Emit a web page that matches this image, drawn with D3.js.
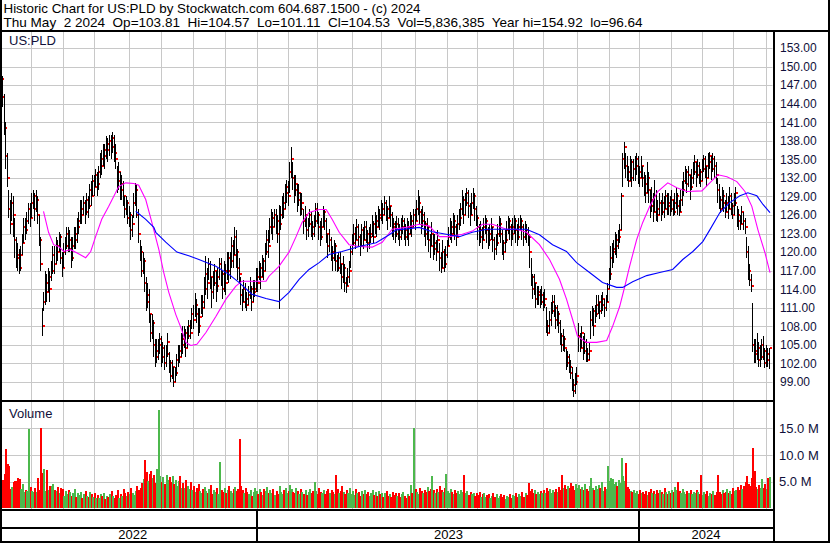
<!DOCTYPE html>
<html>
<head>
<meta charset="utf-8">
<script src="https://cdn.jsdelivr.net/npm/d3@7/dist/d3.min.js"></script>
<style>
  html, body { margin: 0; padding: 0; background: #fff; }
  svg text { font-family: Arial, "Liberation Sans", sans-serif; }
</style>
</head>
<body>
<svg id="chart" width="830" height="543"></svg>
<script>
// ---------------- DATA ----------------
const titleLine1 = "Historic Chart for US:PLD by Stockwatch.com 604.687.1500 - (c) 2024";
const titleLine2 = "Thu May  2 2024  Op=103.81  Hi=104.57  Lo=101.11  Cl=104.53  Vol=5,836,385  Year hi=154.92  lo=96.64";
const symbol = "US:PLD";
const startDate = "2022-05-02";
const endDate = "2024-05-02";
const holidays = ["2022-05-30","2022-06-20","2022-07-04","2022-09-05","2022-11-24","2022-12-26",
  "2023-01-02","2023-01-16","2023-02-20","2023-04-07","2023-05-29","2023-06-19","2023-07-04","2023-09-04","2023-11-23","2023-12-25",
  "2024-01-01","2024-01-15","2024-02-19","2024-03-29"];

const priceTicks = [153,150,147,144,141,138,135,132,129,126,123,120,117,114,111,108,105,102,99];
const volumeTicks = [5,10,15];   // millions
const yearLabels = ["2022","2023","2024"];

// daily highs
const highs = [
153.5,148.5,145.5,141,136,
130,128.5,129.5,129,125.5,122.5,
121.5,120.5,121,123,125.5,125.5,126.5,
128,128,129.5,130,129.5,130,129,
126,122.5,111,
113.5,117,116.5,117.5,117,
118.5,121,121,122.5,122,123.3,123,120,121.5,
122.5,124,124,123.5,122.5,122.5,124,124,125.5,
126.5,128.5,128.5,129,128.5,129.5,129,
131,131.5,132.5,132.5,133.5,133,
134,136,136.5,137.5,137.5,138.7,138.5,
139,139,139.5,139,137.5,
134,134.5,133,132.5,131.5,
129,129,128.5,127.5,126.5,126,129.5,131.2,131,127,
122,121,120,119,116,115,114,
110,110,109,106,106,
106,107,106.5,105.5,105,105,107,
103.8,102.5,102.5,101.5,101.5,103.5,
105,105,107,108,108,107.5,108,
109,109,111,111.5,113.4,112.5,111,111,113,113,
116,119.3,117.5,119,118.5,116,117,118,117,117.5,119,
119,117,118.5,118,120,120,
120,122.5,122,124,123.5,120.5,119,
116,114,115.5,115,113.5,114.5,116,114.5,115.5,
115.5,117.5,117.5,118.5,118.3,119.5,119,121.5,123.5,123.5,
125.5,126.9,126.5,127,127,126,127.6,127.5,
129,129.5,131,131.7,131.5,
134.5,137,
134.5,132.5,132.5,131,131,129.5,129.5,
127,127.4,126,125.5,127,126.5,125,
126,128,128,126.5,125,125.5,127.5,127,125.5,
123,123.7,122.5,121,122,121.5,119.5,120,120,
118,119.3,118,116,117.5,118.5,
121,123,124.5,124,125.3,124.5,123,124.5,124,125,125,123.5,124,
124.5,126,125,126.5,126,127.5,127,128.5,128,129,128.5,127.5,129,127.5,126.5,
125.5,125,125.8,125.5,124.5,125.5,126,125.5,124.5,
125.5,125,126.5,126,127,127,128.5,130,129,127,127.5,126.5,125,125.5,
124,123,124.8,123,123,122,123.5,
121.5,120,122,120.5,121,122,
124,125.5,125,126.4,126,124.5,126,127,
128,130,129,129.5,130.4,130,128,129.5,130.4,129.5,127.5,
126,124.5,125,124,125.5,126,125.5,124,124.5,125.5,
124,122.5,123,124.5,125.8,125.5,123.5,122,123.5,125,125.8,125.5,124.5,
125.5,126,125.5,124.5,125.5,126,125.5,124.5,125,
124.5,124,123,119,116.5,116.5,115,114.5,
114.5,114,114.5,113.5,114,
111.2,109,110.5,
112,113,113,111.5,111.5,110.5,
109,107,107.5,106.5,
104.3,104,103.5,102.5,
101.5,99.5,100.5,101.5,
108.6,107,108,
106.5,107,106,104.5,105.5,
110.5,111.3,
111,111.5,113,113,112,113,113.5,112.5,113,
115,117.5,
121,121.5,
122,123.2,123,123.5,
124.5,129.6,
136,137.8,
136,135.5,134,135.5,135,
135,135.5,136,135.5,134,135.5,134,
133,132.5,134.5,133,
130,130.5,129.5,131.7,130,128.5,129.5,
128.5,129.5,129,130,
129.5,129.5,129,130,128.5,129.5,130.5,129.5,128.5,
130,131.5,133,134,133.5,134,
132.5,133.5,134.5,135.7,134.5,135,134.5,133.5,135,135.7,135.5,
134,136,136.2,135.5,136,135.5,134.5,
132,131,129,130.5,130,128.5,
129.5,129,130.6,129.5,128,129.5,130.5,
127.4,127,126,127.4,126.5,
125.5,122.5,121,118,116.5,
111.8,
106,106,107,105.5,105,106,106.5,104.5,105,104.5,104.57
];

// daily lows
const lows = [
146.5,143.5,139,133.5,130.5,
125.5,123,125,122.5,119,117.5,
117,116.4,117,119.5,121.5,122,123,
124.5,124,125.5,127,125,126.5,124.5,
121,117,106.5,
110.5,111.5,112,113.5,112,
115.3,116.5,116.5,118,118.5,120,118,116,117.5,
119.5,120.5,120,120,117.5,118.5,120.5,120.5,121.5,
123,124.5,124.5,126,124.5,126,125.5,
127,127.5,129,129,130.5,129,
130,132,132.5,134,133.5,135,134.5,
135.5,135,136,134.5,133.5,
129.5,130,128.5,128.5,127.5,
125.5,126,124.5,124,122,122.5,125.5,127.5,125.5,121.5,
118.5,116,116.5,113.5,110.5,111,108.6,
105.5,106,103,101.5,102,
102.5,103.5,101.5,102,101,101.5,103,
100.5,99,99.5,98.2,99,100,
101.5,102,103,103.5,104.5,103,104.5,
105.9,106,107.5,107.5,109.5,108.5,106.5,107,110,109.5,
111,113,112.5,115.5,114,111,112.5,114.5,112,113.5,115.5,
114.5,112.4,113.5,113,115.5,115,
115.6,117.5,117.5,119.5,117.5,115.5,115,
111.5,110.5,112,111,110.4,111.5,112.5,110.5,112,
112.8,113.5,113.5,115.5,114,116,115.5,117,119.5,119,
121.5,123,122,124,123,121.5,110.8,123.5,
125.3,125.5,127,128,127.5,
129.5,132,
130,128,129,126.5,127.5,125.8,126,
123,124,122,122.5,124,122.5,122,
122.5,124,124.5,122,121,122,124,123.5,121.5,
119,120,118.5,117,118.5,117,116.8,117,116.5,
114,115,113.5,113.4,114.5,115,
117.5,119.5,121,120.5,122,121,119.3,121,120.5,122,121.5,120,120.5,
121.5,122.5,121.5,123,122.5,124,123.5,125,124.5,126,125,123.5,125.5,124,122.5,
122,121.5,122.5,122,121,122,123,122,121,
122,121,123,122.5,124,123.5,125,126,124.5,123,124,122.5,121,122,
120,119,121,118.8,119.5,118.5,120,
117,116.7,117.5,116.8,117.5,119,
121,122,121.5,123,122,121,122.5,123.5,
124.2,126,124.5,126,127.5,125.5,124.2,126,127,125,124.2,
122,121,121.5,120.5,122,123,121.5,120.5,121,122,
120,118.8,119.5,121,122.5,121.5,119.5,118.8,120,121.5,123,122,121,
122,123,121.5,121,122,123.5,122,121,122,
121.5,121,117.5,114.5,112.5,113,111,111.5,
111.5,111,111.5,110.5,111,
107,106.4,107,
108,110,109.5,107.5,108,107,
105,103.8,104,103.8,
101,101.5,100.5,99.5,
97.5,96.64,97,98.5,
103.8,103.8,104.5,
102.5,103.5,102.3,102.3,102.5,
105.9,108,
106.5,108.5,109.5,110,109.2,110,110.5,109.5,110.5,
112,114,
115.5,117.5,
118.3,119.5,119,120.5,
121.5,123.5,
130.5,133.5,
132,131.5,130.6,131.5,130.6,
131.5,131.5,132.5,131,130.5,132,130.5,
129,128,129.5,128,
125.5,126.5,124.8,126.5,125,124.8,126,
125,126,125.5,127,
126,126,125.8,126.5,125.8,126,127,126,125.8,
126.5,127.5,129,131,129.5,130.5,
128.5,130,131,132.5,130.6,132,131,130.6,131.5,133,132,
130.6,132,133.5,131.7,133,132,131,
128,127,126.4,127,126.5,125.5,
126.5,125.3,127,126,125.3,126,127.5,
124,123.6,123.6,124.5,123.6,
123,119,115.5,114.5,113.5,
103.8,
102,102,102.5,101.5,101.5,102.5,102.5,101.2,101.5,101.5,101.11
];

// daily closes
const closes = [
148,145,140,135.5,132,
127,124.5,128,126,122,119.5,
119,117.5,119.5,121.5,124,123.5,125,
127,125.5,128,129,127,128.5,126,
122,118,108,
112,115,113.5,116,114,
117,119.5,118,121,120,122.5,119,117.5,120,
121,123,120.5,122,119,121,123,122,124,
125,127,126,128,126.5,128.5,127.5,
130,129,131.5,130.5,132.5,131,
133,135,134,136.5,135.5,137.5,136.5,
138,137,138.5,136,135,
131.5,133,130,131,129,
127,128,125.5,126,123.5,124.5,128,130,126,123,
120,117,118.5,115,112,113,110,
107,108.5,105,103,104,
105,106,103,104.5,102,103.5,105.5,
102,100,101.5,99,100.5,102.5,
104,103,106,105,107,104.5,106.5,
108,107,110,109,111.5,110,108,109.5,112,111,
114,116.5,115,118,116,113.5,115,117,114.5,116,118,
116.5,114,117,115,119,117,
118.5,121,119.5,122.5,120,117.5,116.5,
113,112,114,112.5,111.5,113,114,112,113.5,
114,116,115,117.5,116,118.5,117,120,122,121,
124,125.5,124,126,125,123,124.5,126,
128,127,129.5,130.5,129,
133,135,
132,130,131,128.5,129.5,127,128,
125,126,123.5,124.5,126,124,123,
125,127,126,124,122.5,124,126.5,125,123,
121,122,120,119,121,118.5,117.5,119,118,
116,117.5,115,114.5,116,117,
120,121.5,123,122,124,122.5,121,123.5,122,124,123,121.5,122.5,
123,124.5,122.5,125,124,126,125.5,127,126,128,127,125.5,127.5,126,124.5,
124,123,124.5,123.5,122.5,124,125,123.5,122.5,
124,123,125,124,126,125,127,128,126.5,125,126,124.5,123,124,
122,121,123,120.5,121.5,120,122,
119,117.5,120,118,119.5,121,
122.5,124,123,125,124,122.5,124.5,125.5,
127,128.5,126,128,129.5,127.5,126,128,129,127,125.5,
124,122.5,123.5,122,124,125,123.5,122,123,124,
122,120.5,121.5,123,124.5,123,121.5,120,122,123.5,125,124,123,
124,125,123.5,122.5,124,125,124,122.5,123.5,
123,122.5,120,116,114,115,112.5,113,
113.5,112,113,111.5,112.5,
108,107,109,
110.5,112,111,109,110,108.5,
106.5,105,106,104.5,
102,103,101.5,100.5,
98.5,97.5,99,100,
106.5,104.5,107,
104,105.5,103.5,102.5,104,
109,110.5,
108,110,111.5,112,110.5,111.5,112.5,111,112,
114,116.5,
119,120,
120.5,122,121,122.5,
123.5,129,
135,137,
134,133,131.5,134.5,132,
133.5,134,135,133,132,134,132,
131,129.5,132,130,
127.5,128.5,126.5,129,127,126,128,
126.5,128,127,129,
127.5,128,127,128.5,126.5,128,129,127.5,126.5,
128.5,130,131.5,133,131,132.5,
130.5,132,133,134.5,132.5,134,133,131.5,133.5,135,134,
132,134.5,135.5,133.5,135,134,132.5,
130,128.5,127,129,128,126.5,
128,127,129,127.5,126,128,129.5,
126,125,124.5,126.5,125,
124,120,117,115.5,114.5,
105,
104,103.5,104.5,102.5,103,105,104,102,103.5,102.5,104.53
];

// daily volume, millions of shares
const volumes = [
5.0,5.3,6.4,11.2,8.4,8.0,3.7,4.0,4.9,5.2,
5.2,5.7,5.5,3.7,4.5,3.0,3.5,3.2,14.8,4.0,
3.3,3.1,3.8,3.1,5.6,3.5,15.1,6.6,7.4,3.3,
7.1,3.5,4.1,4.1,4.6,3.5,3.3,4.0,2.9,3.9,
3.6,2.3,3.3,2.6,3.5,3.0,2.4,2.8,3.6,2.2,
2.9,2.5,3.1,2.0,2.7,3.3,2.4,2.1,3.0,2.6,
2.2,2.8,1.9,2.5,2.0,2.7,2.3,2.9,1.8,2.4,
2.1,2.6,3.2,2.4,1.9,2.5,3.4,2.0,2.7,2.3,
3.6,2.8,2.4,3.1,2.6,3.9,2.9,2.5,3.3,4.1,
3.4,3.8,4.8,5.5,9.0,6.8,5.2,6.4,7.0,5.6,
6.2,4.8,7.3,18.5,6.0,5.0,5.9,4.6,6.2,5.3,
5.8,4.9,6.1,4.5,5.4,4.2,5.1,6.0,3.9,4.7,
3.8,5.3,4.1,3.6,4.9,3.4,4.2,3.1,3.8,4.5,
3.3,2.9,3.7,4.0,3.2,2.8,3.6,4.3,2.7,3.4,
3.0,3.9,2.6,8.6,3.5,3.1,3.8,2.9,3.4,4.2,
3.3,2.8,3.6,4.0,3.2,3.7,13.0,4.1,3.4,2.9,
3.8,3.1,2.7,3.5,2.4,3.0,3.9,3.3,2.6,3.6,
3.0,2.5,3.7,3.2,4.0,2.8,3.4,2.9,3.6,2.5,
3.3,2.7,4.1,3.0,2.6,3.5,3.8,2.9,3.2,4.4,
3.6,3.1,2.8,3.9,3.3,2.6,3.7,3.0,2.7,3.4,
2.5,3.1,3.6,2.8,3.3,5.0,3.2,2.6,3.8,3.0,
2.9,3.5,2.6,3.2,3.7,2.8,3.4,3.0,2.7,6.3,
3.6,2.9,3.3,4.2,3.1,2.6,3.5,2.9,3.8,2.7,
3.2,2.5,3.6,2.8,3.0,2.4,3.3,2.7,3.5,2.6,
3.1,2.4,2.9,3.4,2.5,3.0,2.3,3.2,2.6,2.9,
2.2,2.8,3.3,2.4,2.7,2.1,3.0,2.5,2.8,2.3,
2.9,2.2,2.6,3.1,2.4,2.0,2.7,2.3,4.3,2.9,
15.0,3.6,3.1,2.7,3.9,3.3,2.8,3.5,3.0,4.0,
3.2,3.7,6.0,3.4,2.9,3.6,3.1,4.2,3.5,3.0,
3.8,6.5,3.3,2.8,3.6,3.0,2.7,3.4,2.9,3.2,
2.6,3.5,3.0,6.3,2.8,3.3,2.5,3.1,2.7,2.9,
2.3,2.8,2.5,3.0,2.2,2.6,2.9,2.1,2.5,2.7,
2.0,2.4,2.8,2.2,2.6,1.9,2.3,2.7,2.1,2.5,
1.8,2.4,2.2,2.7,2.0,2.5,2.3,2.9,2.1,2.6,
2.4,3.0,2.2,2.8,2.5,4.7,3.2,3.6,2.9,3.4,
2.7,3.1,2.6,3.3,2.8,3.5,2.9,3.8,3.2,3.6,
2.8,3.4,3.0,3.7,3.1,4.0,3.5,6.3,3.8,4.4,
3.6,4.2,3.9,4.8,4.1,3.5,4.6,3.8,4.3,3.6,
4.0,3.4,4.5,3.7,3.2,4.1,5.7,3.9,3.5,4.2,
3.6,4.4,3.8,4.9,3.3,4.0,3.7,8.0,5.2,5.7,
5.5,4.6,5.0,4.2,5.3,4.8,9.5,6.0,5.1,8.5,
4.0,3.6,3.3,3.0,3.5,2.8,3.2,2.6,3.4,2.9,
3.1,2.7,3.3,2.5,3.0,3.6,2.8,3.2,2.6,3.4,
2.9,3.5,3.0,2.7,3.8,3.1,2.6,3.3,2.9,3.5,
3.0,4.0,3.4,5.0,3.2,2.8,3.6,3.1,2.7,3.3,
2.9,3.4,2.6,3.1,2.8,3.5,3.0,2.7,6.3,2.5,
3.0,2.6,3.2,2.4,2.9,2.7,3.3,2.5,3.1,6.3,
3.0,2.6,3.4,2.8,3.1,3.6,2.9,3.3,2.7,3.8,
3.2,3.5,4.0,3.4,4.4,3.7,4.1,5.0,6.0,4.5,
4.2,5.6,11.4,7.0,4.0,3.6,4.3,3.8,5.5,3.9,
4.6,3.7,5.6,5.84
];

// moving averages: [bar index, price]
const maShort = [[27.5,126.6],[30.8,123.2],[34.1,121.2],[37.4,120.9],[40.7,120.1],[45.2,120.4],[49.2,119.9],[55.1,119.1],[58.4,120.1],[61.6,122.5],[65.6,125.3],[70.2,127.4],[76.7,130.6],[81.3,131.2],[86.6,131.1],[89.8,130.8],[94.4,128.5],[98.4,124.8],[103,120.4],[106.2,116.7],[109.5,113.5],[114.1,109.9],[117.4,107.8],[120.7,105.4],[123.9,104.9],[127.9,105.1],[133.8,107],[140.3,109.6],[146.9,112.4],[153.4,114.5],[157.4,115.3],[163.9,115.3],[173.1,115.3],[175.1,116.1],[181.6,117.7],[188.2,120],[192.8,122.5],[196.7,124.8],[201.3,126.4],[207.9,126.9],[212.5,126.9],[216.4,125.3],[221,123.2],[227.5,121.2],[234.1,120.9],[242.6,120.8],[249.2,121.6],[255.7,123.7],[264.9,124],[273.4,124.5],[280,124.2],[286.6,122.5],[293.1,122.5],[301.6,122.9],[308.2,123.4],[314.8,124.5],[321.3,124.5],[330.5,123.7],[337,123.7],[343.6,123.2],[352.1,121.2],[358.7,118.8],[365.2,115.6],[369.8,112.4],[373.8,109.1],[377,106.4],[382.9,105.4],[389.5,105.4],[396.1,105.7],[400,108],[404.6,111.2],[407.9,114.4],[411.1,117.7],[415.7,122],[419.7,124.8],[424.3,127.4],[429.5,129.8],[436.1,131.2],[442,130.4],[448.5,129.8],[458.4,129.9],[463.6,131.2],[468.9,132.5],[474.8,132.2],[481.3,131.4],[486.6,129.8],[491.1,127.4],[495.1,123.6],[499.7,119.9],[503,116.7]];
const maLong = [[87.9,126.6],[94.4,125.3],[99.7,124],[101,123.2],[107.5,121.6],[114.8,120],[122.6,119.4],[129.2,118.8],[140.3,117.7],[148.9,116.4],[155.4,115.1],[163.9,113.2],[173.1,112.5],[181.6,112],[188.2,113.5],[194.8,115.6],[201.3,117.2],[207.9,118.3],[214.4,119.6],[222.9,120.1],[234.1,120.9],[245.2,121.5],[253.8,122.8],[258.4,123.6],[266.9,123.8],[273.4,124],[282,123.3],[291.1,122.9],[299.7,122.5],[308.2,123.2],[317.4,123.7],[325.9,123.7],[343.6,123.7],[352.1,122.8],[360.7,121.2],[369.8,120.1],[376.4,118.3],[384.9,116.7],[393.4,115.1],[402.6,114.3],[406.6,114.3],[413.1,115.2],[422.3,116.2],[430.8,116.7],[439.3,117.2],[445.9,118.8],[452.5,120.1],[459,121.7],[463.6,123.6],[470.2,126.4],[476.7,128],[483.3,129.1],[488.5,129.6],[494.4,129.1],[498.4,127.7],[503,126.4]];

// ---------------- CHART ----------------
const svg = d3.select("#chart");
const N = Math.min(highs.length, lows.length, closes.length, volumes.length);

// trading days
const hol = new Set(holidays);
const fmt = d3.timeFormat("%Y-%m-%d");
const allDays = d3.timeDay.range(d3.timeParse("%Y-%m-%d")(startDate), d3.timeDay.offset(d3.timeParse("%Y-%m-%d")(endDate), 1))
  .filter(d => d.getDay() !== 0 && d.getDay() !== 6 && !hol.has(fmt(d)));
const dates = allDays.slice(Math.max(0, allDays.length - N));
const off = N - dates.length;

const L = 2, R = 772.5, PT = 31.5, PB = 400, VT = 402, VB = 509;

const x = d3.scaleLinear().domain([0, N - 1]).range([1.5, 770]);
const y = d3.scaleLinear().domain([99, 153]).range([382, 48]);
const yv = d3.scaleLinear().domain([0, 15]).range([508.3, 428.3]);

// month / year boundaries (bar index)
const monthStarts = [], yearStarts = [];
dates.forEach((d, i) => {
  if (i === 0) return;
  const p = dates[i - 1];
  if (d.getMonth() !== p.getMonth()) {
    monthStarts.push(i + off);
    if (d.getFullYear() !== p.getFullYear()) yearStarts.push(i + off);
  }
});
const bx = i => x(i - 0.5) - 1.5;

const defs = svg.append("defs");
defs.append("clipPath").attr("id", "clipP").append("rect").attr("x", L).attr("y", PT).attr("width", R - L).attr("height", PB - PT);
defs.append("clipPath").attr("id", "clipV").append("rect").attr("x", L).attr("y", VT).attr("width", R - L).attr("height", VB - VT);

const gridColor = "#c8c8c8";

// ---- price panel grid
const gP = svg.append("g").attr("clip-path", "url(#clipP)");
gP.append("g").attr("transform", `translate(${R},0)`)
  .call(d3.axisLeft(y).tickValues(priceTicks).tickSize(R - L).tickFormat(""))
  .call(g => g.select(".domain").remove())
  .selectAll("line").attr("stroke", gridColor).attr("shape-rendering", "crispEdges");
gP.selectAll("line.vgrid").data(monthStarts).join("line").attr("class", "vgrid")
  .attr("x1", d => Math.round(bx(d)) + 0.5).attr("x2", d => Math.round(bx(d)) + 0.5)
  .attr("y1", PT).attr("y2", PB).attr("stroke", gridColor);

// ---- price bars with close marks
const barsG = gP.append("g").attr("shape-rendering", "crispEdges");
const idx = d3.range(N);
const bar = barsG.selectAll("g").data(idx).join("g");
bar.append("rect")
  .attr("x", i => Math.round(x(i)) - 1).attr("width", 1)
  .attr("y", i => y(highs[i]))
  .attr("height", i => Math.max(1, y(lows[i]) - y(highs[i])))
  .attr("fill", "#000");
bar.append("rect")
  .attr("x", i => Math.round(x(i))).attr("width", 2)
  .attr("y", i => Math.round(y(closes[i])) - 1).attr("height", 2)
  .attr("fill", "#ff0000");

// ---- moving averages
const line = d3.line().x(d => x(d[0])).y(d => y(d[1]));
gP.append("path").datum(maShort).attr("d", line).attr("fill", "none")
  .attr("stroke", "#ff00ff").attr("stroke-width", 1.1);
gP.append("path").datum(maLong).attr("d", line).attr("fill", "none")
  .attr("stroke", "#0000ff").attr("stroke-width", 1.1);

// ---- volume panel
const gV = svg.append("g").attr("clip-path", "url(#clipV)");
gV.append("g").attr("transform", `translate(${R},0)`)
  .call(d3.axisLeft(yv).tickValues(volumeTicks).tickSize(R - L).tickFormat(""))
  .call(g => g.select(".domain").remove())
  .selectAll("line").attr("stroke", gridColor).attr("shape-rendering", "crispEdges");
gV.selectAll("line.vgrid").data(monthStarts).join("line").attr("class", "vgrid")
  .attr("x1", d => Math.round(bx(d)) + 0.5).attr("x2", d => Math.round(bx(d)) + 0.5)
  .attr("y1", VT).attr("y2", VB).attr("stroke", gridColor);
gV.append("g").attr("shape-rendering", "crispEdges")
  .selectAll("rect").data(idx).join("rect")
  .attr("x", i => x(i) - 1).attr("width", 2)
  .attr("y", i => yv(volumes[i]))
  .attr("height", i => yv(0) - yv(volumes[i]))
  .attr("fill", i => {
    if (i === 0) return "#ff0000";
    const c = closes[i] - closes[i - 1];
    return c > 0 ? "#4cb84c" : (c < 0 ? "#ff0000" : "#a0a0a0");
  });

// ---- axes labels (right)
const axisColor = "#10103a";
svg.append("g").attr("transform", `translate(${R + 1.5},0)`)
  .call(d3.axisRight(y).tickValues(priceTicks).tickSize(0).tickPadding(6).tickFormat(d3.format(".2f")))
  .call(g => g.select(".domain").remove())
  .selectAll("text").attr("font-size", 12).attr("fill", axisColor)
  .attr("font-family", "Arial, 'Liberation Sans', sans-serif");
svg.append("g").attr("transform", `translate(${R + 1.5},0)`)
  .call(d3.axisRight(yv).tickValues(volumeTicks).tickSize(0).tickPadding(5).tickFormat(d => d3.format(".1f")(d) + " M"))
  .call(g => g.select(".domain").remove())
  .selectAll("text").attr("font-size", 13).attr("fill", axisColor)
  .attr("font-family", "Arial, 'Liberation Sans', sans-serif");

// ---- panel labels
svg.append("text").attr("x", 9).attr("y", 45).attr("font-size", 13).attr("fill", axisColor).text(symbol);
svg.append("text").attr("x", 9).attr("y", 418).attr("font-size", 13).attr("fill", axisColor).text("Volume");

// ---- title
svg.append("text").attr("x", 3.5).attr("y", 13).attr("font-size", 13).attr("fill", "#000")
  .attr("xml:space", "preserve").style("white-space", "pre")
  .attr("textLength", 417).attr("lengthAdjust", "spacingAndGlyphs").text(titleLine1);
svg.append("text").attr("x", 3.5).attr("y", 27).attr("font-size", 13).attr("fill", "#000")
  .attr("xml:space", "preserve").style("white-space", "pre")
  .attr("textLength", 639).attr("lengthAdjust", "spacingAndGlyphs").text(titleLine2);

// ---- year axis
const yb = [8, ...yearStarts.map(bx), R];
svg.selectAll("line.ysep").data(yearStarts).join("line").attr("class", "ysep")
  .attr("x1", d => Math.round(bx(d))).attr("x2", d => Math.round(bx(d)))
  .attr("y1", VB).attr("y2", 542).attr("stroke", "#000").attr("stroke-width", 2);
svg.selectAll("text.year").data(yearLabels).join("text").attr("class", "year")
  .attr("x", (d, k) => (yb[k] + yb[k + 1]) / 2).attr("y", 539)
  .attr("text-anchor", "middle").attr("font-size", 13).attr("fill", "#000").text(d => d);

// ---- frame lines
const frame = svg.append("g").attr("fill", "#000").attr("shape-rendering", "crispEdges");
frame.append("rect").attr("x", 0).attr("y", 29.5).attr("width", 830).attr("height", 2);
frame.append("rect").attr("x", 0).attr("y", 0).attr("width", 2).attr("height", 543);
frame.append("rect").attr("x", 827.5).attr("y", 0).attr("width", 2).attr("height", 543);
frame.append("rect").attr("x", 0).attr("y", 541).attr("width", 830).attr("height", 2);
frame.append("rect").attr("x", R).attr("y", 30).attr("width", 2).attr("height", 513);
frame.append("rect").attr("x", 0).attr("y", PB).attr("width", R).attr("height", 2);
frame.append("rect").attr("x", 0).attr("y", VB).attr("width", R).attr("height", 2);
frame.append("rect").attr("x", 0).attr("y", 526.5).attr("width", R).attr("height", 2);
</script>
</body>
</html>
